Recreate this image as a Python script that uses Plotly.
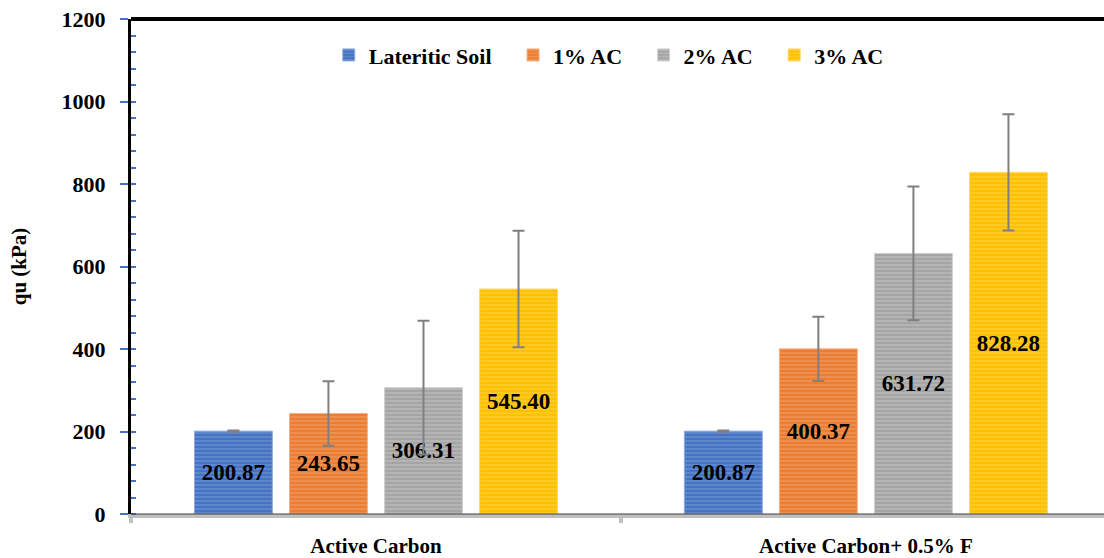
import plotly.graph_objects as go

categories = ["Active Carbon", "Active Carbon+ 0.5% F"]
series_names = ["Lateritic Soil", "1% AC", "2% AC", "3% AC"]
qu_soil = [200.87, 200.87]
qu_1ac = [243.65, 400.37]
qu_2ac = [306.31, 631.72]
qu_3ac = [545.40, 828.28]
err_soil = [1.5, 1.5]
err_1ac = [78, 78]
err_2ac = [162, 162]
err_3ac = [141, 141]

values = [qu_soil, qu_1ac, qu_2ac, qu_3ac]
errors = [err_soil, err_1ac, err_2ac, err_3ac]
colors = ["#4472C4", "#ED7D31", "#A5A5A5", "#FFC000"]
stripes = ["#8FAADC", "#F4B183", "#D0D0D0", "#FFD966"]

FONT = "Liberation Serif"
PAD = "\u00a0\u00a0\u00a0"  # extra room between legend entries

fig = go.Figure()
for i, (name, vals, errs, col, stp) in enumerate(zip(series_names, values, errors, colors, stripes)):
    fig.add_trace(go.Bar(
        x=categories, y=vals, name=name + (PAD if i < len(series_names) - 1 else ""),
        marker=dict(color=col, line=dict(color=stp, width=1),
                    pattern=dict(shape="-", fgcolor=stp, bgcolor=col,
                                 size=4, solidity=0.35, fillmode="overlay")),
        error_y=dict(type="data", array=errs, visible=True,
                     color="#7F7F7F", thickness=2, width=6),
        text=[f"{v:.2f}" for v in vals],
        textposition="inside", insidetextanchor="middle",
        textfont=dict(family=FONT, size=23, color="black", weight="bold"),
        textangle=0,
    ))

# thick top border
fig.add_shape(type="line", xref="paper", yref="paper", x0=0, x1=1, y0=1, y1=1,
              line=dict(color="black", width=4))
# dark edge on top of the grey category axis
fig.add_shape(type="line", xref="paper", yref="paper", x0=0, x1=1, y0=0, y1=0,
              line=dict(color="#404040", width=1), layer="above")

fig.update_layout(
    width=1104, height=558,
    margin=dict(l=131, r=0, t=19, b=44),
    plot_bgcolor="white", paper_bgcolor="white",
    barmode="group", bargap=0.224, bargroupgap=0.18,
    font=dict(family=FONT, color="black"),
    uniformtext=dict(mode="show", minsize=23),
    showlegend=True,
    legend=dict(orientation="h", x=0.491, xanchor="center", y=0.927, yanchor="middle",
                font=dict(family=FONT, size=22, weight="bold"),
                itemwidth=30, bgcolor="rgba(0,0,0,0)", traceorder="normal"),
    xaxis=dict(range=[-0.5, 1.486], showline=True, linecolor="#BFBFBF", linewidth=4,
               ticks="outside", tickson="boundaries", tickcolor="#BFBFBF", ticklen=5,
               tickwidth=4, ticklabelstandoff=10,
               tickfont=dict(family=FONT, size=21, weight="bold")),
    yaxis=dict(range=[0, 1200], dtick=200, showgrid=False, zeroline=False,
               showline=True, linecolor="black", linewidth=3,
               ticks="outside", tickcolor="#4472C4", ticklen=8, tickwidth=2,
               ticklabelstandoff=10,
               minor=dict(dtick=40, ticks="inside", ticklen=5, tickcolor="#4472C4", tickwidth=2),
               tickfont=dict(family=FONT, size=22, weight="bold"),
               title=dict(text="qu (kPa)", standoff=30,
                          font=dict(family=FONT, size=21, weight="bold"))),
)

fig.write_html("out.html", config={"displayModeBar": False},
               post_script="document.body.style.margin='0';")
